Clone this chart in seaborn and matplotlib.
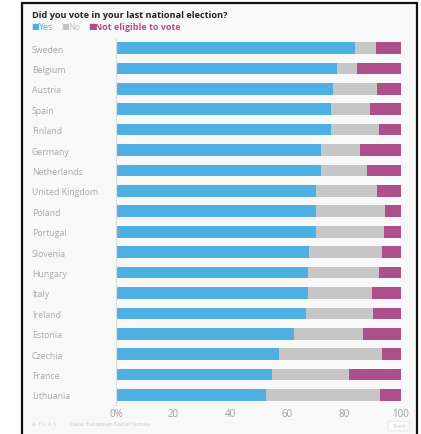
import matplotlib
matplotlib.use("Agg")
import matplotlib.pyplot as plt
from matplotlib.patches import Rectangle, FancyBboxPatch
import seaborn as sns
import pandas as pd
import numpy as np

countries = ["Sweden", "Belgium", "Austria", "Spain", "Finland", "Germany",
             "Netherlands", "United Kingdom", "Poland", "Portugal", "Slovenia",
             "Hungary", "Italy", "Ireland", "Estonia", "Czechia", "France",
             "Lithuania"]
yes = [83.9, 77.4, 76.3, 75.6, 75.4, 72.0, 71.9, 70.2, 70.2, 70.1, 67.6,
       67.5, 67.4, 66.5, 62.5, 57.2, 54.9, 52.5]
no = [7.3, 7.2, 15.2, 13.6, 16.8, 13.7, 16.1, 21.5, 24.2, 24.1, 25.8,
      24.7, 22.3, 23.6, 24.2, 36.1, 27.0, 40.1]
not_eligible = [8.8, 15.4, 8.5, 10.8, 7.8, 14.3, 12.0, 8.3, 5.6, 5.8, 6.6,
                7.8, 10.3, 9.9, 13.3, 6.7, 18.1, 7.4]
x_ticks = [0, 20, 40, 60, 80, 100]
x_tick_labels = ["0%", "20", "40", "60", "80", "100"]

c_yes = "#4eafe3"
c_no = "#c6c6c6"
c_ne = "#ad4f8a"

df = pd.DataFrame({"country": countries, "yes": yes, "no": no, "ne": not_eligible})
df["yes_no"] = df["yes"] + df["no"]
df["total"] = df["yes_no"] + df["ne"]

sns.set_theme(style="white")
plt.rcParams["font.family"] = ["Open Sans", "DejaVu Sans"]

W, H = 421, 435
fig = plt.figure(figsize=(W / 100, H / 100), dpi=100)
fig.patch.set_facecolor("white")

# card panel with dark border, drawn beneath everything else
fig.patches.append(Rectangle((22 / W, -0.01), (417 - 22) / W, 1 - 4 / H + 0.01,
                             transform=fig.transFigure, facecolor="#f8f8f8",
                             edgecolor="#111111", linewidth=1.6, zorder=-5))

ax = fig.add_axes([116 / W, 1 - 406.2 / H, (401 - 116) / W, (406.2 - 38.8) / H])
ax.set_facecolor("none")
ax.set_zorder(2)

bw = 0.57
sns.barplot(data=df, x="total", y="country", orient="h", color=c_ne,
            width=bw, ax=ax, saturation=1, linewidth=0)
sns.barplot(data=df, x="yes_no", y="country", orient="h", color=c_no,
            width=bw, ax=ax, saturation=1, linewidth=0)
sns.barplot(data=df, x="yes", y="country", orient="h", color=c_yes,
            width=bw, ax=ax, saturation=1, linewidth=0)

ax.set_xlim(0, 100)
ax.set_ylim(len(countries) - 0.5, -0.5)
ax.set_xlabel("")
ax.set_ylabel("")
ax.set_xticks(x_ticks)
ax.set_xticklabels(x_tick_labels, color="#a0a0a0", fontsize=7)
ax.tick_params(axis="x", length=0, pad=2)
ax.tick_params(axis="y", length=0, pad=(116 - 32) * 0.72)
for lbl in ax.get_yticklabels():
    lbl.set_horizontalalignment("left")
    lbl.set_color("#a8a8a8")
    lbl.set_fontsize(6.3)
for s in ["top", "right", "bottom"]:
    ax.spines[s].set_visible(False)
ax.spines["left"].set_color("#dddddd")
ax.spines["left"].set_linewidth(0.8)

# title and colored legend
fig.text(32 / W, 1 - 15 / H, "Did you vote in your last national election?",
         fontsize=6.6, fontweight="bold", color="#222222", va="center", ha="left")
ly = 1 - 28 / H
fig.text(31 / W, ly, "■", color=c_yes, fontsize=6, va="center", ha="left")
fig.text(38 / W, ly, "Yes", color=c_yes, fontsize=6.5, va="center", ha="left")
fig.text(61 / W, ly, "■", color=c_no, fontsize=6, va="center", ha="left")
fig.text(68 / W, ly, "No", color=c_no, fontsize=6.5, va="center", ha="left")
fig.text(88 / W, ly, "■", color=c_ne, fontsize=6, va="center", ha="left")
fig.text(95 / W, ly, "Not eligible to vote", color=c_ne, fontsize=6.5,
         fontweight="bold", va="center", ha="left")

# footer
fy = 1 - 425 / H
fig.text(32 / W, fy, "A T L A S", color="#d0d0d0", fontsize=4.5, va="center", ha="left")
fig.text(70 / W, fy, "Data: European Social Survey", color="#c8c8c8", fontsize=4.2,
         va="center", ha="left")
fig.patches.append(FancyBboxPatch((389 / W, 1 - 431 / H), 20 / W, 8 / H,
                                  boxstyle="round,pad=0.002", transform=fig.transFigure,
                                  facecolor="#fafafa", edgecolor="#e6e6e6", linewidth=0.6))
fig.text(399 / W, 1 - 427 / H, "Share", color="#cccccc", fontsize=3.5,
         va="center", ha="center")

fig.savefig("out.png", dpi=100)
